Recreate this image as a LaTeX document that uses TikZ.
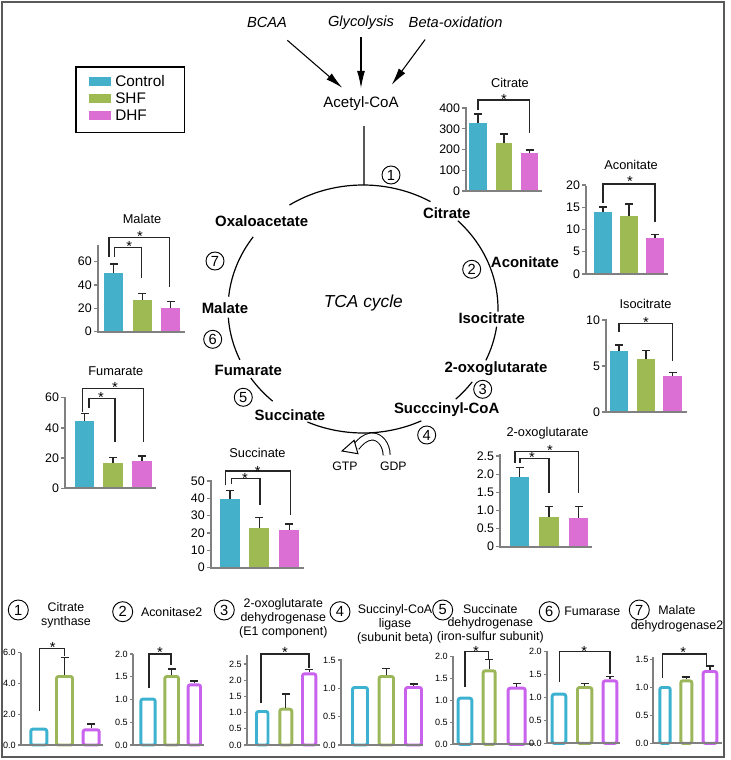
\documentclass[tikz,border=0pt]{standalone}
\usepackage{fontspec}
\setmainfont{Liberation Sans}
\usetikzlibrary{arrows.meta}
\definecolor{ctrl}{RGB}{69,176,201}
\definecolor{shf}{RGB}{157,187,82}
\definecolor{dhf}{RGB}{219,111,211}
\definecolor{ctrlB}{RGB}{60,178,208}
\definecolor{shfB}{RGB}{156,182,90}
\definecolor{dhfB}{RGB}{201,98,236}
\definecolor{axgray}{RGB}{128,128,128}
\definecolor{framegray}{RGB}{90,90,90}

\begin{document}
\begin{tikzpicture}[x=0.75pt,y=0.75pt,yscale=-1,
  feedarr/.style={line width=0.8pt,-{Latex[length=13pt,width=6pt]}},
  feedtxt/.style={font=\itshape\fontsize{11}{13}\selectfont,inner sep=0.75pt},
  cyc/.style={font=\bfseries\fontsize{11.2}{13}\selectfont,inner sep=0.75pt},
  cycline/.style={line width=0.9pt},
  stepno/.style={circle,draw,line width=0.7pt,inner sep=0pt,minimum size=13.5pt,font=\fontsize{11}{11}\selectfont},
  legtxt/.style={anchor=west,font=\fontsize{11.5}{13}\selectfont,inner sep=0pt},
  ctitle/.style={font=\fontsize{9.6}{11}\selectfont,inner sep=0pt},
  btitle/.style={font=\fontsize{9.3}{10.5}\selectfont,inner sep=0pt,align=center},
  tlbl/.style={anchor=east,inner sep=1pt,font=\fontsize{9.3}{10}\selectfont},
  blbl/.style={anchor=east,inner sep=1pt,font=\fontsize{6.8}{8}\selectfont},
  chartax/.style={draw=axgray,line width=1.5pt},
  tickm/.style={draw=axgray,line width=1pt},
  errbar/.style={draw=black!85,line width=0.9pt},
  sig/.style={draw=black!85,line width=0.9pt},
  sigstar/.style={anchor=north,inner sep=0pt,font=\fontsize{11}{11}\selectfont},
  hbar/.style={draw=#1,line width=2.2pt,fill=white,rounded corners=1.5pt},
]
\useasboundingbox (0,0) rectangle (731,760);
\draw[framegray,line width=1.5pt] (2,2) rectangle (724,757);

% feeding pathways
\node[feedtxt] (bcaa) at (267,22.7) {BCAA};
\node[feedtxt] (glyc) at (361,22.7) {Glycolysis};
\node[feedtxt] (betaox) at (455.6,22.7) {Beta-oxidation};
\node[font=\fontsize{11.3}{13}\selectfont,inner sep=0.75pt] (acoa) at (361,104) {Acetyl-CoA};
\draw[feedarr,shorten <=12.8pt,shorten >=9pt] (bcaa) -- (acoa);
\draw[feedarr,shorten <=4.5pt,shorten >=5.7pt] (glyc) -- (acoa);
\draw[feedarr,shorten <=9.5pt,shorten >=10.1pt] ([xshift=-17.2pt]betaox.south) -- ([xshift=17pt]acoa.north);
\coordinate (ctop) at (364,185);
\draw[cycline,shorten <=10.4pt] ([xshift=2.2pt]acoa.south) -- (ctop);

% legend
\draw[line width=0.9pt] (76,67) rectangle (184.5,132.5);
\fill[ctrl] (89,77) rectangle (111,86);
\fill[shf] (89,94) rectangle (111,103);
\fill[dhf] (89,111) rectangle (111,120);
\node[legtxt] (lgc) at (115,81.5) {Control};
\node[legtxt] (lgs) at (115,98.5) {SHF};
\node[legtxt] (lgd) at (115,115.5) {DHF};

% TCA cycle
\foreach \a/\b in {-123/-60,-45.4/1.2,8.2/24.5,36/46.6,64.4/114.3,132/146.2,155.8/176,-174.3/-144.4}
  \draw[cycline] (363,309) ++(\a:135 and 124) arc[start angle=\a,end angle=\b,x radius=135,y radius=124];
\node[cyc] (oaa) at (261.7,220.7) {Oxaloacetate};
\node[cyc] (cit) at (446.7,213.3) {Citrate};
\node[cyc] (aco) at (525,261.7) {Aconitate};
\node[cyc] (icit) at (491.7,318.3) {Isocitrate};
\node[cyc] (akg) at (496,368.3) {2-oxoglutarate};
\node[cyc] (sca) at (446.7,409.3) {Succcinyl-CoA};
\node[cyc] (suc) at (290,415) {Succinate};
\node[cyc] (fum) at (248.3,370) {Fumarate};
\node[cyc] (mal) at (225,307.7) {Malate};
\node[font=\itshape\fontsize{13}{15}\selectfont] (tca) at (363.3,302.7) {TCA cycle};
\node[stepno] (c1) at (391,175) {1};
\node[stepno] (c2) at (471.7,269.3) {2};
\node[stepno] (c3) at (482.7,389.3) {3};
\node[stepno] (c4) at (426.7,435) {4};
\node[stepno] (c5) at (243.3,397.3) {5};
\node[stepno] (c6) at (212.7,339.3) {6};
\node[stepno] (c7) at (215,261) {7};

% GDP -> GTP
\node[font=\fontsize{9.2}{11}\selectfont] (gtp) at (345,466) {GTP};
\node[font=\fontsize{9.2}{11}\selectfont] (gdp) at (393.3,466) {GDP};
\coordinate (gtpend) at (356,447);
\draw[line width=0.75pt,double=white,double distance=4.5pt] ([xshift=-5pt,yshift=-1.5pt]gdp.north) .. controls (386.5,445) and (380,436) .. (371.5,436.5) .. controls (365,437) and (360,442) .. (gtpend);
\draw[fill=white,line width=0.75pt] (342,451) -- (354.1,440.3) -- (357.9,453.7) -- cycle;

% Citrate
\node[ctitle] (tcit) at (510,83) {Citrate};
\fill[ctrl] (469,191) rectangle (487,122.5);
\fill[shf] (496,191) rectangle (512,143);
\fill[dhf] (521,191) rectangle (538,152.6);
\draw[errbar] (478,122.5) -- (478,114) (474,114) -- (482,114);
\draw[errbar] (504,143) -- (504,134) (500,134) -- (508,134);
\draw[errbar] (529.5,152.6) -- (529.5,150) (525.5,150) -- (533.5,150);
\draw[chartax] (466,107) -- (466,191) -- (542,191);
\foreach \ty/\tl in {191/0,170.25/100,149.5/200,128.75/300,108/400}
  \draw[tickm] (466,\ty) -- (462,\ty) node[tlbl] {\tl};
\draw[sig] (478,110) -- (478,100) -- (529.5,100) -- (529.5,133);
\node[sigstar] at (504,94) {*};

% Aconitate
\node[ctitle] (tacon) at (631,165) {Aconitate};
\fill[ctrl] (594,274) rectangle (612,211.7);
\fill[shf] (620,274) rectangle (638,215.7);
\fill[dhf] (646,274) rectangle (664,237.7);
\draw[errbar] (603,211.7) -- (603,207) (599,207) -- (607,207);
\draw[errbar] (629,215.7) -- (629,204) (625,204) -- (633,204);
\draw[errbar] (655,237.7) -- (655,234.7) (651,234.7) -- (659,234.7);
\draw[chartax] (586,186) -- (586,274) -- (668,274);
\foreach \ty/\tl in {274/0,251.75/5,229.5/10,207.25/15,185/20}
  \draw[tickm] (586,\ty) -- (582,\ty) node[tlbl] {\tl};
\draw[sig] (603,203) -- (603,184) -- (655,184) -- (655,222);
\node[sigstar] at (630,176) {*};

% Isocitrate
\node[ctitle] (ticit) at (645.5,304) {Isocitrate};
\fill[ctrl] (610,412) rectangle (628,351.3);
\fill[shf] (637,412) rectangle (655,359.3);
\fill[dhf] (663,412) rectangle (682,376);
\draw[errbar] (619,351.3) -- (619,345) (615,345) -- (623,345);
\draw[errbar] (646,359.3) -- (646,350.7) (642,350.7) -- (650,350.7);
\draw[errbar] (672.5,376) -- (672.5,372.3) (668.5,372.3) -- (676.5,372.3);
\draw[chartax] (606,319) -- (606,412) -- (687,412);
\foreach \ty/\tl in {412/0,366/5,320/10}
  \draw[tickm] (606,\ty) -- (602,\ty) node[tlbl] {\tl};
\draw[sig] (619,332) -- (619,323.5) -- (672.5,323.5) -- (672.5,361);
\node[sigstar] at (646,317) {*};

% 2-oxoglutarate
\node[ctitle] (takg) at (547.5,432.7) {2-oxoglutarate};
\fill[ctrl] (510,546.7) rectangle (529,476.7);
\fill[shf] (539,546.7) rectangle (559,516.7);
\fill[dhf] (569,546.7) rectangle (588,517.7);
\draw[errbar] (519.5,476.7) -- (519.5,467.3) (515.5,467.3) -- (523.5,467.3);
\draw[errbar] (549,516.7) -- (549,506.7) (545,506.7) -- (553,506.7);
\draw[errbar] (578.5,517.7) -- (578.5,506.7) (574.5,506.7) -- (582.5,506.7);
\draw[chartax] (500,454) -- (500,546.7) -- (592,546.7);
\foreach \ty/\tl in {546.7/0,528.6/0.5,510.4/1.0,492.3/1.5,474.2/2.0,456/2.5}
  \draw[tickm] (500,\ty) -- (496,\ty) node[tlbl] {\tl};
\draw[sig] (515,463) -- (515,451.7) -- (578.5,451.7) -- (578.5,493.3);
\node[sigstar] at (550,445.3) {*};
\draw[sig] (520,463) -- (520,458.3) -- (549,458.3) -- (549,493.3);
\node[sigstar] at (532,452.3) {*};

% Succinate
\node[ctitle] (tsuc) at (257.5,453.3) {Succinate};
\fill[ctrl] (220,567.7) rectangle (240,499.3);
\fill[shf] (249.3,567.7) rectangle (269.3,528.3);
\fill[dhf] (279.3,567.7) rectangle (299.3,530);
\draw[errbar] (230,499.3) -- (230,490.7) (226,490.7) -- (234,490.7);
\draw[errbar] (259.3,528.3) -- (259.3,517.3) (255.3,517.3) -- (263.3,517.3);
\draw[errbar] (289.3,530) -- (289.3,524) (285.3,524) -- (293.3,524);
\draw[chartax] (210.7,480) -- (210.7,567.7) -- (304,567.7);
\foreach \ty/\tl in {567.7/0,550.4/10,533/20,515.7/30,498.3/40,481/50}
  \draw[tickm] (210.7,\ty) -- (206.7,\ty) node[tlbl] {\tl};
\draw[sig] (225.7,485) -- (225.7,471) -- (290.7,471) -- (290.7,515);
\node[sigstar] at (257.7,465.7) {*};
\draw[sig] (231.7,484) -- (231.7,478.3) -- (260,478.3) -- (260,505);
\node[sigstar] at (245,473) {*};

% Malate
\node[ctitle] (tmal) at (142,219.3) {Malate};
\fill[ctrl] (104.3,331.7) rectangle (123.3,273.3);
\fill[shf] (132.7,331.7) rectangle (152,300);
\fill[dhf] (161,331.7) rectangle (180,308.3);
\draw[errbar] (113.8,273.3) -- (113.8,264) (109.8,264) -- (117.8,264);
\draw[errbar] (142.3,300) -- (142.3,293.3) (138.3,293.3) -- (146.3,293.3);
\draw[errbar] (170.5,308.3) -- (170.5,301.7) (166.5,301.7) -- (174.5,301.7);
\draw[chartax] (97.7,245) -- (97.7,331.7) -- (185,331.7);
\foreach \ty/\tl in {331.7/0,308.4/20,285.1/40,261.7/60}
  \draw[tickm] (97.7,\ty) -- (93.7,\ty) node[tlbl] {\tl};
\draw[sig] (109,256.7) -- (109,237.3) -- (169.3,237.3) -- (169.3,286.7);
\node[sigstar] at (140,231.3) {*};
\draw[sig] (114.3,256.7) -- (114.3,247.7) -- (141.7,247.7) -- (141.7,277.7);
\node[sigstar] at (129.3,240.7) {*};

% Fumarate
\node[ctitle] (tfum) at (115.8,371) {Fumarate};
\fill[ctrl] (75,488.3) rectangle (94.3,421);
\fill[shf] (103.3,488.3) rectangle (122.7,462.7);
\fill[dhf] (132.3,488.3) rectangle (151.7,460.7);
\draw[errbar] (84.7,421) -- (84.7,413.3) (80.7,413.3) -- (88.7,413.3);
\draw[errbar] (113,462.7) -- (113,457.3) (109,457.3) -- (117,457.3);
\draw[errbar] (142,460.7) -- (142,456) (138,456) -- (146,456);
\draw[chartax] (65,396.7) -- (65,488.3) -- (156,488.3);
\foreach \ty/\tl in {488.3/0,458.1/20,427.9/40,397.7/60}
  \draw[tickm] (65,\ty) -- (61,\ty) node[tlbl] {\tl};
\draw[sig] (82.3,411.7) -- (82.3,388.3) -- (143.3,388.3) -- (143.3,441.7);
\node[sigstar] at (115,382.3) {*};
\draw[sig] (89,407.7) -- (89,398.3) -- (115,398.3) -- (115,441.7);
\node[sigstar] at (101,392.3) {*};

% enzymes: citrate synthase
\node[stepno,minimum size=15pt] (e1) at (18.3,610) {1};
\node[btitle] (te1) at (66,615.3) {Citrate\\synthase};
\draw[hbar=ctrlB] (30.8,745) rectangle (46.8,729.2);
\draw[hbar=shfB] (56.5,745) rectangle (72.5,676.5);
\draw[hbar=dhfB] (83.2,745) rectangle (99.2,729.8);
\draw[errbar] (64.5,675) -- (64.5,657.3) (60.5,657.3) -- (68.5,657.3);
\draw[errbar] (91.2,728.3) -- (91.2,724) (87.2,724) -- (95.2,724);
\draw[chartax] (20.7,652.7) -- (20.7,745) -- (103,745);
\foreach \ty/\tl in {745/0.0,714.2/2.0,683.4/4.0,652.7/6.0}
  \draw[tickm] (20.7,\ty) -- (17.7,\ty) node[blbl] {\tl};
\draw[sig] (39.3,711) -- (39.3,648.3) -- (64.3,648.3) -- (64.3,656);
\node[sigstar] at (52.7,642) {*};

% aconitase2
\node[stepno,minimum size=15pt] (e2) at (122.7,611.7) {2};
\node[btitle] (te2) at (171.7,611.7) {Aconitase2};
\draw[hbar=ctrlB] (140.8,745) rectangle (155.2,699.2);
\draw[hbar=shfB] (164.8,745) rectangle (178.5,676.5);
\draw[hbar=dhfB] (188.2,745) rectangle (200.5,684.8);
\draw[errbar] (171.7,675) -- (171.7,669) (167.7,669) -- (175.7,669);
\draw[errbar] (194.3,683.3) -- (194.3,681) (190.3,681) -- (198.3,681);
\draw[chartax] (132.7,654) -- (132.7,745) -- (204,745);
\foreach \ty/\tl in {745/0.0,722.25/0.5,699.5/1.0,676.75/1.5,654/2.0}
  \draw[tickm] (132.7,\ty) -- (129.7,\ty) node[blbl] {\tl};
\draw[sig] (149,688.3) -- (149,654) -- (171,654) -- (171,665);
\node[sigstar] at (160,647.3) {*};

% 2-oxoglutarate dehydrogenase
\node[stepno,minimum size=15pt] (e3) at (224.3,610) {3};
\node[btitle,font=\fontsize{9.3}{10.7}\selectfont] (te3) at (283.3,618.3) {2-oxoglutarate\\dehydrogenase\\(E1 component)};
\draw[hbar=ctrlB] (256.5,745) rectangle (268,711.5);
\draw[hbar=shfB] (279.8,745) rectangle (291.8,709.2);
\draw[hbar=dhfB] (302.5,745) rectangle (315.8,673.8);
\draw[errbar] (285.8,707.7) -- (285.8,694) (281.8,694) -- (289.8,694);
\draw[errbar] (309.2,672.3) -- (309.2,669.3) (305.2,669.3) -- (313.2,669.3);
\draw[chartax] (246.7,655) -- (246.7,745) -- (320,745);
\foreach \ty/\tl in {745/0.0,728.8/0.5,712.6/1.0,696.4/1.5,680.2/2.0,664/2.5}
  \draw[tickm] (246.7,\ty) -- (243.7,\ty) node[blbl] {\tl};
\draw[sig] (261,703.3) -- (261,654) -- (309,654) -- (309,668.3);
\node[sigstar] at (285,647.3) {*};

% succinyl-CoA ligase
\node[stepno,minimum size=15pt] (e4) at (340,611.7) {4};
\node[btitle,font=\fontsize{9.3}{10.2}\selectfont] (te4) at (395,624.3) {Succinyl-CoA\\ligase\\(subunit beta)};
\draw[hbar=ctrlB] (352.5,745) rectangle (367.5,687.5);
\draw[hbar=shfB] (379.1,745) rectangle (393.5,676.5);
\draw[hbar=dhfB] (405.5,745) rectangle (421.5,687.5);
\draw[errbar] (386.3,675) -- (386.3,668.3) (382.3,668.3) -- (390.3,668.3);
\draw[errbar] (413.5,686) -- (413.5,684) (409.5,684) -- (417.5,684);
\draw[chartax] (340.7,659.3) -- (340.7,745) -- (423.3,745);
\foreach \ty/\tl in {745/0.0,716.7/0.5,688.3/1.0,660/1.5}
  \draw[tickm] (340.7,\ty) -- (337.7,\ty) node[blbl] {\tl};

% succinate dehydrogenase
\node[stepno,minimum size=15pt] (e5) at (442.7,610) {5};
\node[btitle,font=\fontsize{9.3}{10.2}\selectfont] (te5) at (490.3,623.5) {Succinate\\dehydrogenase\\(iron-sulfur subunit)};
\draw[hbar=ctrlB] (458.2,744.3) rectangle (471.8,698.2);
\draw[hbar=shfB] (483.2,744.3) rectangle (495.2,670.8);
\draw[hbar=dhfB] (508.2,744.3) rectangle (525.2,688.2);
\draw[errbar] (489.2,669.3) -- (489.2,659.3) (485.2,659.3) -- (493.2,659.3);
\draw[errbar] (516.7,686.7) -- (516.7,683.3) (512.7,683.3) -- (520.7,683.3);
\draw[chartax] (452.7,656) -- (452.7,744.3) -- (535,744.3);
\foreach \ty/\tl in {744.3/0.0,722.4/0.5,700.5/1.0,678.6/1.5,656.7/2.0}
  \draw[tickm] (452.7,\ty) -- (449.7,\ty) node[blbl] {\tl};
\draw[sig] (465,686.7) -- (465,651.7) -- (488.3,651.7) -- (488.3,660);
\node[sigstar] at (476,646.3) {*};

% fumarase
\node[stepno,minimum size=15pt] (e6) at (549.3,611.7) {6};
\node[btitle] (te6) at (592.3,611.7) {Fumarase};
\draw[hbar=ctrlB] (552.2,743.3) rectangle (565.8,694.2);
\draw[hbar=shfB] (577.5,743.3) rectangle (591.8,687.5);
\draw[hbar=dhfB] (603.2,743.3) rectangle (616.8,680.8);
\draw[errbar] (584.7,686) -- (584.7,683.3) (580.7,683.3) -- (588.7,683.3);
\draw[errbar] (610,679.3) -- (610,676.7) (606,676.7) -- (614,676.7);
\draw[chartax] (546.7,651) -- (546.7,743.3) -- (620,743.3);
\foreach \ty/\tl in {743.3/0.0,720.3/0.5,697.3/1.0,674.3/1.5,651.3/2.0}
  \draw[tickm] (546.7,\ty) -- (543.7,\ty) node[blbl] {\tl};
\draw[sig] (559.3,681.7) -- (559.3,651.7) -- (610,651.7) -- (610,674);
\node[sigstar] at (584.3,646.3) {*};

% malate dehydrogenase2
\node[stepno,minimum size=15pt] (e7) at (639.3,610) {7};
\node[btitle,font=\fontsize{9.3}{11.2}\selectfont] (te7) at (677,619.2) {Malate\\dehydrogenase2};
\draw[hbar=ctrlB] (659.8,743.3) rectangle (670.2,687.5);
\draw[hbar=shfB] (680.8,743.3) rectangle (691.8,680.8);
\draw[hbar=dhfB] (703.2,743.3) rectangle (716.8,671.5);
\draw[errbar] (686.3,679.3) -- (686.3,677) (682.3,677) -- (690.3,677);
\draw[errbar] (710,670) -- (710,666) (706,666) -- (714,666);
\draw[chartax] (653.3,657.3) -- (653.3,743.3) -- (721.7,743.3);
\foreach \ty/\tl in {743.3/0.0,715.3/0.5,687.3/1.0,659.3/1.5}
  \draw[tickm] (653.3,\ty) -- (650.3,\ty) node[blbl] {\tl};
\draw[sig] (662.7,678.3) -- (662.7,654) -- (706.7,654) -- (706.7,665);
\node[sigstar] at (683.3,647.3) {*};

\end{tikzpicture}
\end{document}
